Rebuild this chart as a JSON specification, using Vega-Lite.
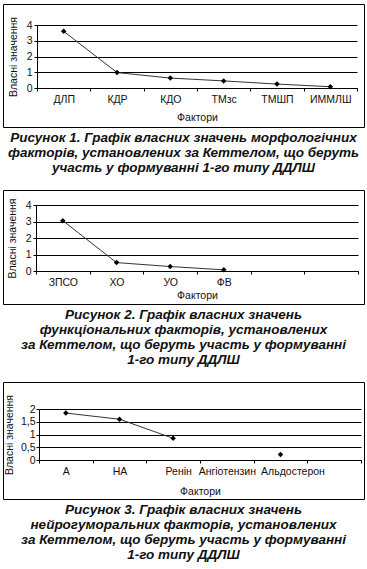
{
  "$schema": "https://vega.github.io/schema/vega-lite/v6.json",
  "padding": {"left": 2, "top": 3, "right": 0, "bottom": 0},
  "spacing": 14,
  "background": "white",
  "config": {
    "view": {"stroke": "#000", "strokeWidth": 1},
    "font": "Liberation Sans",
    "axis": {
      "labelFont": "Liberation Sans", "labelFontSize": 10.5, "labelColor": "#111",
      "titleFont": "Liberation Sans", "titleFontSize": 10.5, "titleFontWeight": "normal", "titleColor": "#111",
      "domainColor": "#000", "tickColor": "#000", "gridColor": "#000", "gridOpacity": 1, "tickSize": 3
    },
    "title": {"font": "Liberation Sans", "fontSize": 13.5, "fontStyle": "italic", "fontWeight": "bold", "color": "#111", "lineHeight": 15, "orient": "bottom", "anchor": "middle", "offset": 4}
  },
  "vconcat": [
    {
      "width": 361, "height": 123,
      "title": {"text": ["Рисунок 1. Графік власних значень морфологічних", "факторів, установлених за Кеттелом, що беруть", "участь у формуванні 1-го типу ДДЛШ"]},
      "data": {"values": [
        {"factor": "ДЛП", "value": 3.6},
        {"factor": "КДР", "value": 0.98},
        {"factor": "КДО", "value": 0.63},
        {"factor": "ТМзс", "value": 0.45},
        {"factor": "ТМШП", "value": 0.25},
        {"factor": "ИММЛШ", "value": 0.08}
      ]},
      "encoding": {
        "x": {"field": "factor", "type": "nominal",
          "scale": {"type": "band", "domain": ["ДЛП", "КДР", "КДО", "ТМзс", "ТМШП", "ИММЛШ"], "range": [34, 354], "paddingInner": 0, "paddingOuter": 0},
          "axis": {"orient": "bottom", "offset": -39, "title": "Фактори", "labelAngle": 0, "tickBand": "extent", "grid": false, "labelPadding": 3, "titlePadding": 8}},
        "y": {"field": "value", "type": "quantitative",
          "scale": {"domain": [0, 4], "range": [84, 21], "nice": false, "zero": false},
          "axis": {"offset": -34, "values": [0, 1, 2, 3, 4], "title": "Власні значення", "grid": true, "labelPadding": 2, "titlePadding": 8}}
      },
      "layer": [
        {"mark": {"type": "line", "color": "#333", "strokeWidth": 1}},
        {"mark": {"type": "point", "shape": "diamond", "filled": true, "color": "#000", "size": 30, "opacity": 1}}
      ]
    },
    {
      "width": 361, "height": 114,
      "title": {"text": ["Рисунок 2. Графік власних значень", "функціональних факторів, установлених", "за Кеттелом, що беруть участь у формуванні", "1-го типу ДДЛШ"]},
      "data": {"values": [
        {"factor": "ЗПСО", "value": 3.05},
        {"factor": "ХО", "value": 0.51},
        {"factor": "УО", "value": 0.27},
        {"factor": "ФВ", "value": 0.07}
      ]},
      "encoding": {
        "x": {"field": "factor", "type": "nominal",
          "scale": {"type": "band", "domain": ["ЗПСО", "ХО", "УО", "ФВ", " ", "  "], "range": [33, 355], "paddingInner": 0, "paddingOuter": 0},
          "axis": {"orient": "bottom", "offset": -33, "title": "Фактори", "labelAngle": 0, "tickBand": "extent", "grid": false, "labelPadding": 3, "titlePadding": 3}},
        "y": {"field": "value", "type": "quantitative",
          "scale": {"domain": [0, 4], "range": [81, 15], "nice": false, "zero": false},
          "axis": {"offset": -33, "values": [0, 1, 2, 3, 4], "title": "Власні значення", "grid": true, "labelPadding": 2, "titlePadding": 8}}
      },
      "layer": [
        {"mark": {"type": "line", "color": "#333", "strokeWidth": 1}},
        {"mark": {"type": "point", "shape": "diamond", "filled": true, "color": "#000", "size": 30, "opacity": 1}}
      ]
    },
    {
      "width": 361, "height": 117,
      "title": {"text": ["Рисунок 3. Графік власних значень", "нейрогуморальних факторів, установлених", "за Кеттелом, що беруть участь у формуванні", "1-го типу ДДЛШ"]},
      "data": {"values": [
        {"factor": "А", "value": 1.84},
        {"factor": "НА", "value": 1.6},
        {"factor": "Ренін", "value": 0.85},
        {"factor": "Альдостерон", "value": 0.22}
      ]},
      "encoding": {
        "x": {"field": "factor", "type": "nominal",
          "scale": {"type": "band", "domain": ["А", "НА", "Ренін", "Ангіотензин", "Альдостерон", " "], "range": [36, 358], "paddingInner": 0, "paddingOuter": 0},
          "axis": {"orient": "bottom", "offset": -39, "title": "Фактори", "labelAngle": 0, "tickBand": "extent", "grid": false, "labelPadding": 3, "titlePadding": 10,
            "labelOffset": {"condition": [{"test": "datum.label == 'Ренін'", "value": 5}, {"test": "datum.label == 'Альдостерон'", "value": 12}], "value": 0}}},
        "y": {"field": "value", "type": "quantitative",
          "scale": {"domain": [0, 2], "range": [78, 27], "nice": false, "zero": false},
          "axis": {"offset": -36, "values": [0, 0.5, 1, 1.5, 2], "format": "~g", "labelExpr": "replace(datum.label, '.', ',')", "title": "Власні значення", "grid": true, "labelPadding": 1, "titlePadding": 6}}
      },
      "layer": [
        {"transform": [{"filter": "datum.factor != 'Альдостерон'"}], "mark": {"type": "line", "color": "#333", "strokeWidth": 1}},
        {"mark": {"type": "point", "shape": "diamond", "filled": true, "color": "#000", "size": 30, "opacity": 1}}
      ]
    }
  ]
}
